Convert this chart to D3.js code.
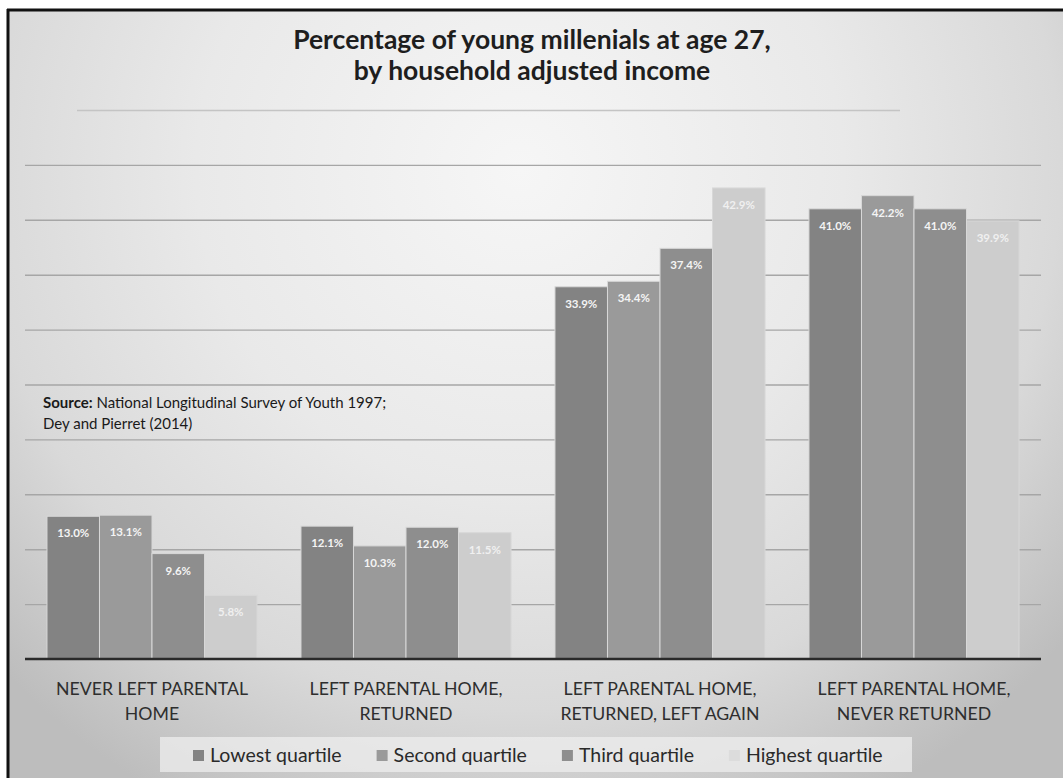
<!DOCTYPE html>
<html>
<head>
<meta charset="utf-8">
<script src="https://cdn.jsdelivr.net/npm/d3@7"></script>
<style>
  html, body { margin: 0; padding: 0; background: #ffffff; }
  svg { display: block; }
  text { font-family: "Lato", "Open Sans", "DejaVu Sans", sans-serif; }
</style>
</head>
<body>
<svg id="chart" width="1063" height="778"></svg>
<script>
// ---------- data ----------
const categories = [
  ["NEVER LEFT PARENTAL", "HOME"],
  ["LEFT PARENTAL HOME,", "RETURNED"],
  ["LEFT PARENTAL HOME,", "RETURNED, LEFT AGAIN"],
  ["LEFT PARENTAL HOME,", "NEVER RETURNED"]
];
const seriesNames = ["Lowest quartile", "Second quartile", "Third quartile", "Highest quartile"];
const lowest  = [13.0, 12.1, 33.9, 41.0];
const second  = [13.1, 10.3, 34.4, 42.2];
const third   = [9.6, 12.0, 37.4, 41.0];
const highest = [5.8, 11.5, 42.9, 39.9];
const yTicks = [5, 10, 15, 20, 25, 30, 35, 40, 45, 50];
const titleLines = ["Percentage of young millenials at age 27,", "by household adjusted income"];

const seriesValues = [lowest, second, third, highest];
const seriesColors = ["#838383", "#9a9a9a", "#8e8e8e", "#cdcdcd"];
const labelColors  = ["#f4f4f4", "#f4f4f4", "#f4f4f4", "#f0f0f0"];

const W = 1063, H = 778;
const svg = d3.select("#chart");
const defs = svg.append("defs");

// background gradient
const rg = defs.append("radialGradient").attr("id", "bg")
  .attr("gradientUnits", "userSpaceOnUse")
  .attr("cx", 520).attr("cy", 170).attr("r", 720);
rg.append("stop").attr("offset", 0).attr("stop-color", "#f6f6f6");
rg.append("stop").attr("offset", 0.45).attr("stop-color", "#e9e9e9");
rg.append("stop").attr("offset", 0.75).attr("stop-color", "#d9d9d9");
rg.append("stop").attr("offset", 1).attr("stop-color", "#bdbdbd");

svg.append("rect").attr("x", 0).attr("y", 0).attr("width", W).attr("height", H).attr("fill", "#ffffff");
svg.append("rect").attr("x", 8).attr("y", 10).attr("width", W - 8).attr("height", H - 10).attr("fill", "url(#bg)");
// frame
svg.append("line").attr("x1", 8).attr("x2", 8).attr("y1", 9).attr("y2", H).attr("stroke", "#111").attr("stroke-width", 3);
svg.append("line").attr("x1", 7).attr("x2", W).attr("y1", 10).attr("y2", 10).attr("stroke", "#111").attr("stroke-width", 3);

// ---------- scales ----------
const plotL = 25, plotR = 1041;
const x0 = d3.scaleBand().domain(d3.range(categories.length)).range([plotL, plotR])
  .paddingInner(0.173).paddingOuter(0.0865);
const x1 = d3.scaleBand().domain(d3.range(seriesNames.length)).range([0, x0.bandwidth()]).padding(0);
const y = d3.scaleLinear().domain([0, 50]).range([659, 110]);

// gridlines via axis
const grid = svg.append("g").attr("transform", `translate(${plotL},0)`)
  .call(d3.axisLeft(y).tickValues(yTicks).tickSize(-(plotR - plotL)).tickFormat(""));
grid.select(".domain").remove();
grid.selectAll(".tick line").attr("stroke", "#a6a6a6").attr("stroke-width", 1.4);
grid.selectAll(".tick").filter(d => d === 50).select("line")
  .attr("stroke", "#c4c4c4").attr("x1", 52).attr("x2", 875);

// title
const title = svg.append("text").attr("text-anchor", "middle").attr("fill", "#1e1e1e")
  .attr("font-weight", "bold").attr("font-size", 26.5);
title.selectAll("tspan").data(titleLines).join("tspan")
  .attr("x", 532).attr("y", (d, i) => 49 + i * 31).text(d => d);

// bars
const groups = svg.append("g").selectAll("g").data(categories).join("g")
  .attr("transform", (d, i) => `translate(${x0(i)},0)`);
groups.each(function(cat, ci) {
  const g = d3.select(this);
  seriesValues.forEach((vals, si) => {
    const v = vals[ci];
    g.append("rect")
      .attr("x", x1(si)).attr("y", y(v))
      .attr("width", x1.bandwidth()).attr("height", y(0) - y(v))
      .attr("fill", seriesColors[si])
      .attr("stroke", "#d8d8d8").attr("stroke-width", 1);
    g.append("text")
      .attr("x", x1(si) + x1.bandwidth() / 2).attr("y", y(v) + 21)
      .attr("text-anchor", "middle").attr("font-size", 11.5).attr("font-weight", "bold")
      .attr("fill", labelColors[si])
      .text(d3.format(".1f")(v) + "%");
  });
});

// baseline
svg.append("line").attr("x1", plotL).attr("x2", plotR).attr("y1", y(0)).attr("y2", y(0))
  .attr("stroke", "#2a2a2a").attr("stroke-width", 2.5);

// category labels
svg.append("g").selectAll("text").data(categories).join("text")
  .attr("text-anchor", "middle").attr("fill", "#2e2e2e").attr("font-size", 17.7)
  .each(function(lines, i) {
    d3.select(this).selectAll("tspan").data(lines).join("tspan")
      .attr("x", x0(i) + x0.bandwidth() / 2)
      .attr("y", (d, j) => 695 + j * 25)
      .text(d => d);
  });

// source note
const src = svg.append("text").attr("x", 43).attr("y", 408).attr("font-size", 15).attr("fill", "#1a1a1a");
src.append("tspan").attr("font-weight", "bold").text("Source:");
src.append("tspan").text(" National Longitudinal Survey of Youth 1997;");
svg.append("text").attr("x", 43).attr("y", 429).attr("font-size", 15).attr("fill", "#1a1a1a")
  .text("Dey and Pierret (2014)");

// legend
svg.append("rect").attr("x", 160).attr("y", 737).attr("width", 752).attr("height", 35)
  .attr("fill", "#ededed").attr("opacity", 0.75);
const leg = svg.append("g");
let lx = 193;
seriesNames.forEach((name, i) => {
  leg.append("rect").attr("x", lx).attr("y", 750).attr("width", 11).attr("height", 11)
    .attr("fill", seriesColors[i] === "#cdcdcd" ? "#dcdcdc" : seriesColors[i]);
  const t = leg.append("text").attr("x", lx + 17).attr("y", 762).attr("font-size", 19.5)
    .attr("fill", "#2a2a2a").text(name);
  lx = lx + 17 + t.node().getComputedTextLength() + 35;
});
</script>
</body>
</html>
